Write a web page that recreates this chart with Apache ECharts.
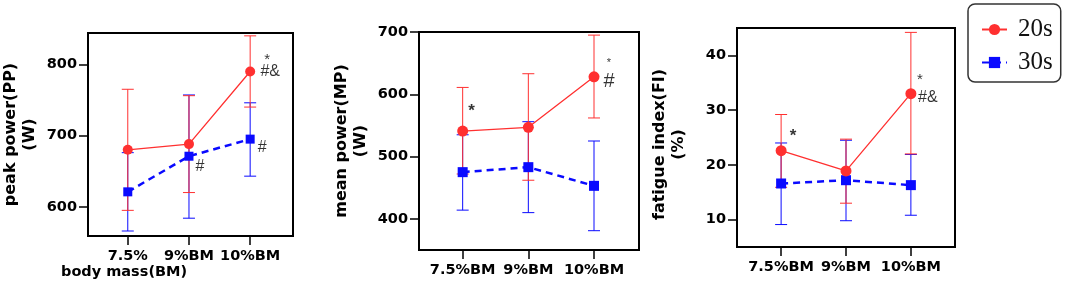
<!DOCTYPE html>
<html>
<head>
<meta charset="utf-8">
<script src="https://cdn.jsdelivr.net/npm/echarts@6/dist/echarts.min.js"></script>
<style>
  html, body { margin: 0; padding: 0; background: #fff; }
  #chart { width: 1065px; height: 282px; }
</style>
</head>
<body>
<div id="chart"></div>
<script>
// x categories
const catsPP = ['7.5%', '9%BM', '10%BM']
const catsOther = ['7.5%BM', '9%BM', '10%BM']

// peak power (W)
const ppMean20 = [680, 688, 790]
const ppLow20 = [595, 620, 740]
const ppHigh20 = [765, 756, 840]
const ppMean30 = [621, 671, 695]
const ppLow30 = [566, 584, 643]
const ppHigh30 = [676, 757, 746]

// mean power (W)
const mpMean20 = [541, 547, 628]
const mpLow20 = [472, 462, 562]
const mpHigh20 = [611, 633, 695]
const mpMean30 = [475, 483, 453]
const mpLow30 = [414, 410, 381]
const mpHigh30 = [535, 556, 525]

// fatigue index (%)
const fiMean20 = [22.6, 18.9, 33.0]
const fiLow20 = [15.9, 13.0, 22.0]
const fiHigh20 = [29.2, 24.7, 44.2]
const fiMean30 = [16.6, 17.2, 16.3]
const fiLow30 = [9.1, 9.8, 10.8]
const fiHigh30 = [24.0, 24.5, 21.9]

// y ticks
const ppTicks = [600, 700, 800]
const mpTicks = [400, 500, 600, 700]
const fiTicks = [10, 20, 30, 40]

// significance marks: [category index, series ('20s'/'30s'), text]
const ppNotes = [[2, '20s', '*'], [2, '20s', '#&'], [1, '30s', '#'], [2, '30s', '#']]
const mpNotes = [[0, '20s', '*'], [2, '20s', '*'], [2, '20s', '#']]
const fiNotes = [[0, '20s', '*'], [2, '20s', '*'], [2, '20s', '#&']]

const RED = '#ff3030'
const BLUE = '#0a0aff'
const tickFont = { fontFamily: 'DejaVu Sans', fontWeight: 'bold', fontSize: 14.5, color: '#000' }

// label offsets / sizes for the marks, same order as the notes
const noteStyle = [
  [{ o: [17, -12], s: 15 }, { o: [20, 0], s: 16 }, { o: [11, 10], s: 16 }, { o: [12, 8], s: 16 }],
  [{ o: [9, -20], s: 17, w: 'bold' }, { o: [15, -14], s: 11 }, { o: [15, 5], s: 20 }],
  [{ o: [12, -14], s: 17, w: 'bold' }, { o: [9, -14], s: 15 }, { o: [17, 4], s: 16 }]
]

const panels = [
  { cats: catsPP, m20: ppMean20, l20: ppLow20, h20: ppHigh20, m30: ppMean30, l30: ppLow30, h30: ppHigh30,
    ticks: ppTicks, min: 559, max: 844, xmin: -0.65, xmax: 2.7, name: 'peak power(PP)\n(W)', notes: ppNotes,
    grid: { left: 88, top: 33, width: 205, height: 203 }, sym: 9, namePad: 0 },
  { cats: catsOther, m20: mpMean20, l20: mpLow20, h20: mpHigh20, m30: mpMean30, l30: mpLow30, h30: mpHigh30,
    ticks: mpTicks, min: 350, max: 700, xmin: -0.665, xmax: 2.685, name: 'mean power(MP)\n(W)', notes: mpNotes,
    grid: { left: 419, top: 32, width: 220, height: 218 }, sym: 10, namePad: 0 },
  { cats: catsOther, m20: fiMean20, l20: fiLow20, h20: fiHigh20, m30: fiMean30, l30: fiLow30, h30: fiHigh30,
    ticks: fiTicks, min: 5, max: 45, xmin: -0.68, xmax: 2.68, name: 'fatigue index(FI)\n(%)', notes: fiNotes,
    grid: { left: 737, top: 28, width: 218, height: 219 }, sym: 10, namePad: 14 }
]

function errorBars(idx, low, high, color) {
  return {
    type: 'custom',
    name: 'err' + idx + color,
    xAxisIndex: idx,
    yAxisIndex: idx,
    silent: true,
    z: 2,
    data: low.map((v, i) => [i, v, high[i]]),
    renderItem(params, api) {
      const top = api.coord([api.value(0), api.value(2)])
      const bot = api.coord([api.value(0), api.value(1)])
      const style = { stroke: color, lineWidth: 1 }
      const cap = 6
      return {
        type: 'group',
        children: [
          { type: 'line', shape: { x1: top[0], y1: top[1], x2: bot[0], y2: bot[1] }, style },
          { type: 'line', shape: { x1: top[0] - cap, y1: top[1], x2: top[0] + cap, y2: top[1] }, style },
          { type: 'line', shape: { x1: bot[0] - cap, y1: bot[1], x2: bot[0] + cap, y2: bot[1] }, style }
        ]
      }
    }
  }
}

const grid = []
const xAxis = []
const yAxis = []
const series = []

panels.forEach((p, idx) => {
  grid.push({ ...p.grid, show: true, borderColor: '#000', borderWidth: 2, outerBoundsMode: 'none', containLabel: false })
  xAxis.push({
    type: 'value', gridIndex: idx, min: p.xmin, max: p.xmax,
    splitLine: { show: false },
    axisLine: { show: true, onZero: false, lineStyle: { color: '#000', width: 2 } },
    axisTick: { show: true, length: 9, customValues: [0, 1, 2], lineStyle: { color: '#000', width: 1.5 } },
    axisLabel: { ...tickFont, margin: 13, customValues: [0, 1, 2], formatter: v => p.cats[Math.round(v)] }
  })
  yAxis.push({
    type: 'value', gridIndex: idx, min: p.min, max: p.max,
    name: p.name, nameLocation: 'middle', nameGap: 49,
    nameTextStyle: {
      fontFamily: 'DejaVu Sans', fontWeight: 'bold', fontSize: 16, lineHeight: 19, color: '#000',
      padding: [0, p.namePad, 0, 0]
    },
    splitLine: { show: false },
    axisLine: { show: true, onZero: false, lineStyle: { color: '#000', width: 2 } },
    axisTick: { show: true, length: 9, customValues: p.ticks, lineStyle: { color: '#000', width: 1.5 } },
    axisLabel: { ...tickFont, margin: 11, customValues: p.ticks }
  })
  series.push(errorBars(idx, p.l30, p.h30, BLUE))
  series.push(errorBars(idx, p.l20, p.h20, RED))
  series.push({
    name: '30s', type: 'line', xAxisIndex: idx, yAxisIndex: idx, z: 3,
    data: p.m30.map((v, i) => [i, v]),
    symbol: 'rect', symbolSize: p.sym,
    itemStyle: { color: BLUE },
    lineStyle: { color: BLUE, width: 2.5, type: [7, 5] }
  })
  series.push({
    name: '20s', type: 'line', xAxisIndex: idx, yAxisIndex: idx, z: 4,
    data: p.m20.map((v, i) => [i, v]),
    symbol: 'circle', symbolSize: p.sym + 1,
    itemStyle: { color: RED },
    lineStyle: { color: RED, width: 1.3 }
  })
  series.push({
    name: 'notes' + idx, type: 'scatter', xAxisIndex: idx, yAxisIndex: idx, z: 5,
    symbolSize: 0, silent: true,
    data: p.notes.map((n, k) => {
      const st = noteStyle[idx][k]
      const val = n[1] === '20s' ? p.m20[n[0]] : p.m30[n[0]]
      return {
        value: [n[0], val],
        label: {
          show: true, position: 'inside', formatter: n[2], offset: st.o,
          fontFamily: 'Liberation Sans', fontSize: st.s, fontWeight: st.w || 'normal', color: '#000'
        }
      }
    })
  })
})

const chart = echarts.init(document.getElementById('chart'), null, { renderer: 'canvas' })
chart.setOption({
  animation: false,
  backgroundColor: '#fff',
  title: {
    text: 'body mass(BM)', left: 61, top: 265, padding: 0,
    textStyle: { fontFamily: 'DejaVu Sans', fontWeight: 'bold', fontSize: 14.5, color: '#000' }
  },
  legend: {
    data: ['20s', '30s'],
    orient: 'vertical',
    left: 968, top: 4,
    width: 94,
    padding: [12, 8, 6, 13],
    itemGap: 6,
    itemWidth: 25, itemHeight: 14,
    borderColor: '#333', borderWidth: 1.5, borderRadius: 7,
    textStyle: { fontFamily: 'Liberation Serif', fontSize: 25, lineHeight: 27, color: '#111', padding: [0, 0, 0, 6] }
  },
  grid,
  xAxis,
  yAxis,
  series
})
</script>
</body>
</html>
